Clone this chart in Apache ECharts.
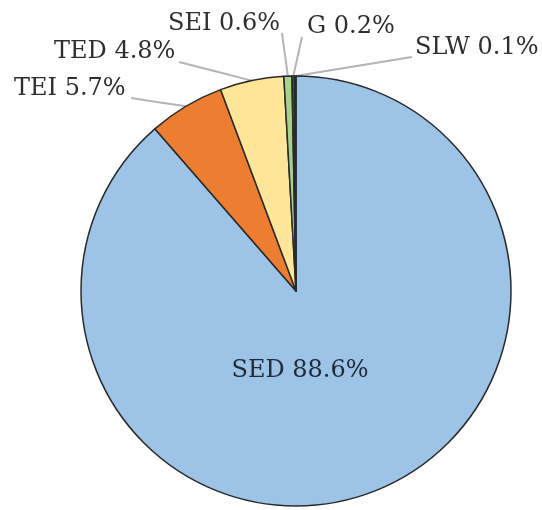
<!DOCTYPE html>
<html>
<head>
<meta charset="utf-8">
<script src="https://cdn.jsdelivr.net/npm/echarts@6/dist/echarts.min.js"></script>
<style>html,body{margin:0;padding:0;background:#fff;}#c{width:542px;height:510px;}</style>
</head>
<body>
<div id="c"></div>
<script>
const categories = ['SED', 'TEI', 'TED', 'SEI', 'G', 'SLW'];
const values = [88.6, 5.7, 4.8, 0.6, 0.2, 0.1];
const colors = ['#9DC3E6', '#ED7D31', '#FFE699', '#A9D18E', '#375623', '#1F2D3D'];

const CX = 296, CY = 291, R = 215;

// label placement and the end of each leader line next to its label
const labelSpots = [
  { x: 300, y: 371, align: 'center' },
  { x: 14, y: 89, align: 'left', lx: 131, ly: 98 },
  { x: 54, y: 52, align: 'left', lx: 179, ly: 62 },
  { x: 168, y: 24, align: 'left', lx: 282, ly: 33 },
  { x: 307, y: 27, align: 'left', lx: 302, ly: 37 },
  { x: 415, y: 48, align: 'left', lx: 412, ly: 57 }
];

const total = values.reduce((a, b) => a + b, 0);
const midAngles = [];
let acc = 0;
values.forEach(v => { midAngles.push((acc + v / 2) / total * 2 * Math.PI); acc += v; });

const chart = echarts.init(document.getElementById('c'), null, { renderer: 'canvas' });
chart.setOption({
  animation: false,
  backgroundColor: '#ffffff',
  series: [{
    type: 'pie',
    center: [CX, CY],
    radius: [0, R],
    startAngle: 90,
    clockwise: true,
    avoidLabelOverlap: false,
    itemStyle: { borderColor: '#2a2a2a', borderWidth: 1.5 },
    label: {
      show: true,
      position: 'outside',
      formatter: '{b} {c}%',
      fontFamily: 'DejaVu Serif',
      fontSize: 24,
      color: '#2e2e2e'
    },
    labelLine: {
      show: true,
      lineStyle: { color: '#b5b5b5', width: 2 }
    },
    labelLayout: function (p) {
      const i = p.dataIndex;
      const s = labelSpots[i];
      const out = { x: s.x, y: s.y, align: s.align, verticalAlign: 'middle' };
      if (i > 0) {
        const a = midAngles[i];
        const ex = CX + R * Math.sin(a), ey = CY - R * Math.cos(a);
        out.labelLinePoints = [[ex, ey], [(ex + s.lx) / 2, (ey + s.ly) / 2], [s.lx, s.ly]];
      }
      return out;
    },
    data: categories.map((n, i) => ({
      name: n,
      value: values[i],
      itemStyle: { color: colors[i] },
      label: i === 0 ? { position: 'inside', color: '#1f2a3a' } : undefined,
      labelLine: i === 0 ? { show: false } : undefined
    }))
  }]
});
</script>
</body>
</html>
